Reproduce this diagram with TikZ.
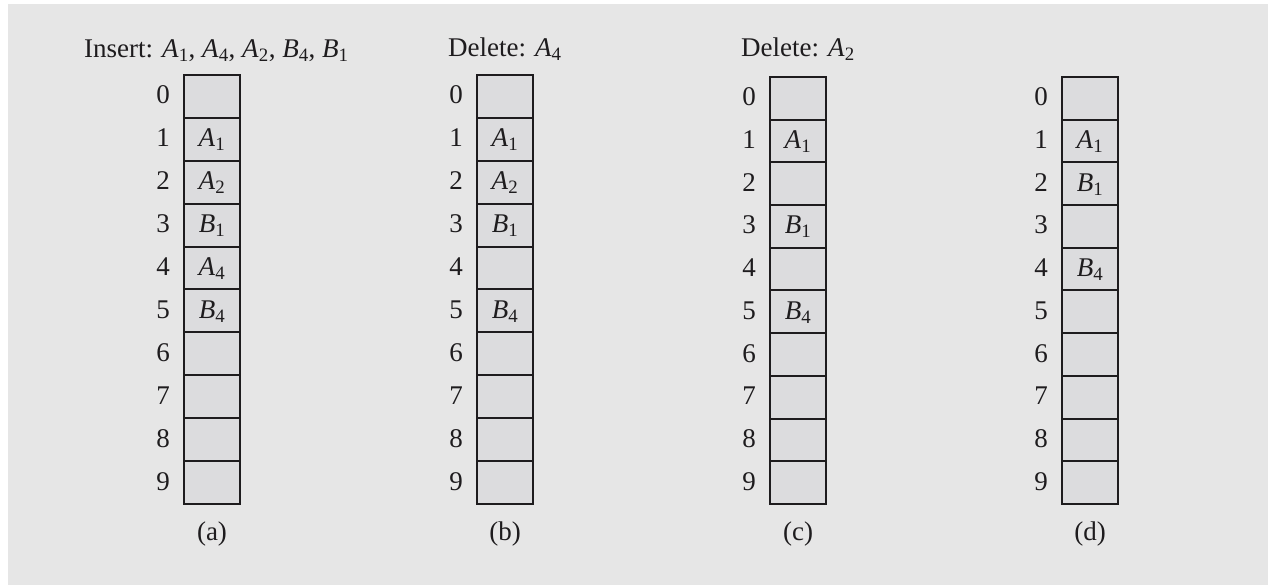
\documentclass[tikz,border=0pt]{standalone}
\usepackage{fontspec}
\setmainfont{Liberation Serif}
\definecolor{panelgray}{RGB}{230,230,230}
\definecolor{cellgray}{RGB}{220,220,222}
\definecolor{inkgray}{RGB}{30,28,30}
\newcommand{\ent}[2]{\textit{#1}\textsubscript{#2}}
\tikzset{
  base font/.style={font=\fontsize{27}{32}\selectfont, text=inkgray},
  slot/.style={fill=cellgray, rectangle,
    minimum width=56pt, minimum height=#1, inner sep=0pt},
  slot border/.style={draw=inkgray, line width=2pt},
  entry/.style={base font, inner sep=0pt, text height=18pt, text depth=3pt, anchor=center},
  index/.style={base font, inner sep=0pt, text height=18pt, text depth=3pt, anchor=center},
  heading/.style={base font, inner sep=0pt, anchor=base west},
  caption/.style={base font, inner sep=0pt, anchor=base}
}
\begin{document}
\begin{tikzpicture}[x=1pt, y=-1pt]
  \useasboundingbox (0,0) rectangle (1268,585);
  \fill[white] (0,0) rectangle (1268,585);
  \fill[panelgray] (8,4) rectangle (1268,585);

  % four hash tables with ten slots each
  \foreach \tab/\cx/\cy in {a/184/75, b/477/75, c/770/77, d/1062/77} {
    \pgfmathsetmacro{\rh}{(504-\cy)/10}
    \foreach \r in {0,...,9} {
      \node[slot=\rh pt] (\tab-\r) at ({\cx+28}, {\cy+(\r+0.5)*\rh}) {};
      \node[index] (\tab-i\r) at ({\cx-21}, {\cy+(\r+0.5)*\rh}) {\r};
    }
    % outline and slot separators, snapped to whole units
    \draw[slot border] (\cx,\cy) rectangle ({\cx+56},504);
    \foreach \r in {1,...,9} {
      \pgfmathsetmacro{\yy}{round(\cy+\r*\rh)}
      \draw[slot border] (\cx,\yy) -- ({\cx+56},\yy);
    }
    \node[caption] (\tab-cap) at ({\cx+28}, 540) {(\tab)};
  }

  % headings
  \node[heading] (ha) at (84,58) {Insert: \ent{A}{1}, \ent{A}{4}, \ent{A}{2}, \ent{B}{4}, \ent{B}{1}};
  \node[heading] (hb) at (448,57) {Delete: \ent{A}{4}};
  \node[heading] (hc) at (741,57) {Delete: \ent{A}{2}};

  % table (a)
  \node[entry] (ea1) at (a-1) {\ent{A}{1}};
  \node[entry] (ea2) at (a-2) {\ent{A}{2}};
  \node[entry] (ea3) at (a-3) {\ent{B}{1}};
  \node[entry] (ea4) at (a-4) {\ent{A}{4}};
  \node[entry] (ea5) at (a-5) {\ent{B}{4}};
  % table (b)
  \node[entry] (eb1) at (b-1) {\ent{A}{1}};
  \node[entry] (eb2) at (b-2) {\ent{A}{2}};
  \node[entry] (eb3) at (b-3) {\ent{B}{1}};
  \node[entry] (eb5) at (b-5) {\ent{B}{4}};
  % table (c)
  \node[entry] (ec1) at (c-1) {\ent{A}{1}};
  \node[entry] (ec3) at (c-3) {\ent{B}{1}};
  \node[entry] (ec5) at (c-5) {\ent{B}{4}};
  % table (d)
  \node[entry] (ed1) at (d-1) {\ent{A}{1}};
  \node[entry] (ed2) at (d-2) {\ent{B}{1}};
  \node[entry] (ed4) at (d-4) {\ent{B}{4}};
\end{tikzpicture}
\end{document}
